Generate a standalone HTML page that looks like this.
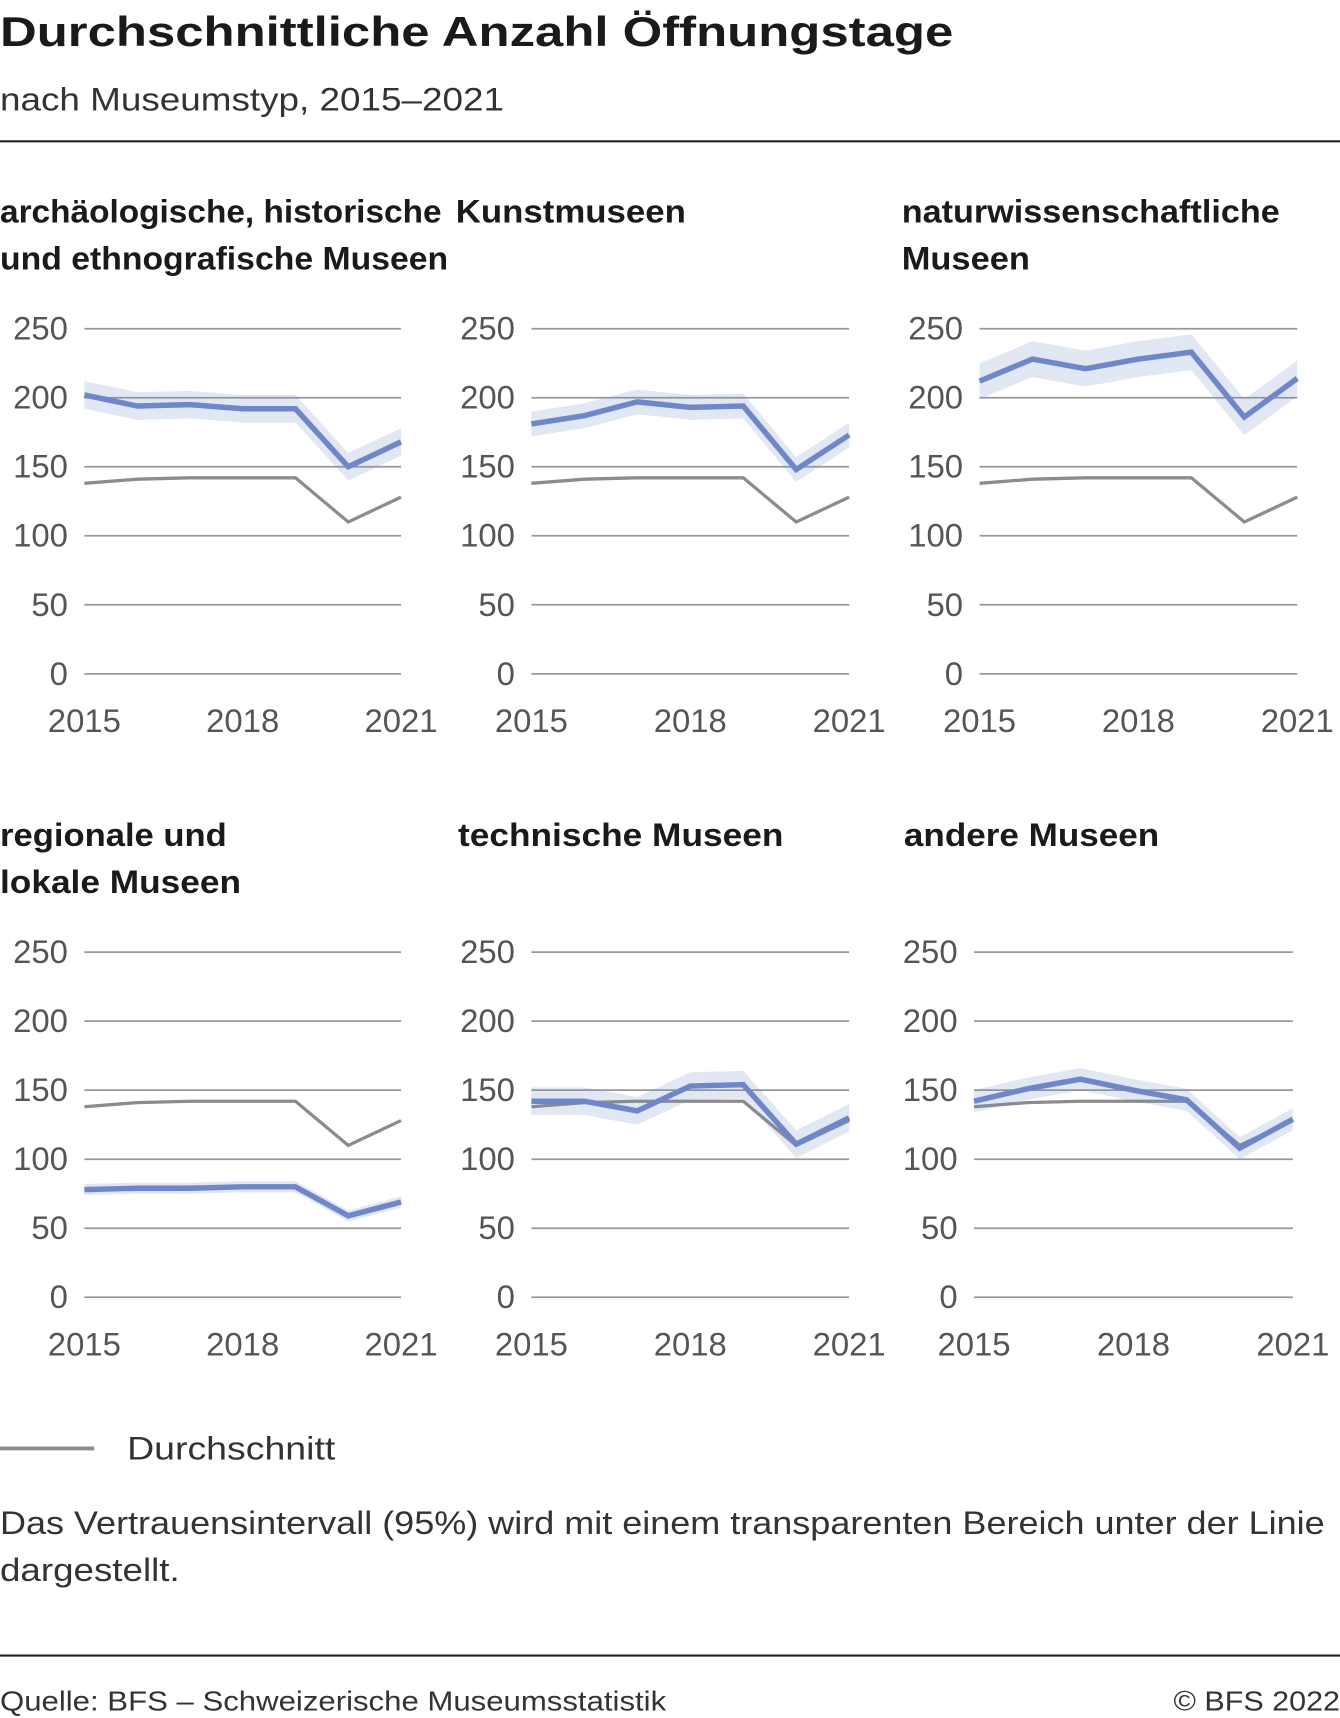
<!DOCTYPE html>
<html><head><meta charset="utf-8"><style>
html,body{margin:0;padding:0;background:#fff;}
svg{display:block;font-family:"Liberation Sans",sans-serif;}
</style></head><body>
<svg id="s" width="1340" height="1718" viewBox="0 0 1223 1568" xmlns="http://www.w3.org/2000/svg">
<rect width="1223" height="1568" fill="#fff"/>
<text x="0" y="42" font-size="38" font-weight="bold" fill="#1a1a1a" textLength="870" lengthAdjust="spacingAndGlyphs">Durchschnittliche Anzahl Öffnungstage</text>
<text x="0" y="101" font-size="30" fill="#333" textLength="460" lengthAdjust="spacingAndGlyphs">nach Museumstyp, 2015–2021</text>
<line x1="0" y1="129" x2="1223" y2="129" stroke="#222" stroke-width="2"/>
<g font-size="30" font-weight="bold" fill="#1a1a1a">
<text x="0" y="203" textLength="403" lengthAdjust="spacingAndGlyphs">archäologische, historische</text>
<text x="0" y="246" textLength="409" lengthAdjust="spacingAndGlyphs">und ethnografische Museen</text>
<text x="416" y="203" textLength="210" lengthAdjust="spacingAndGlyphs">Kunstmuseen</text>
<text x="823" y="203" textLength="345" lengthAdjust="spacingAndGlyphs">naturwissenschaftliche</text>
<text x="823" y="246" textLength="117" lengthAdjust="spacingAndGlyphs">Museen</text>
<text x="0" y="772" textLength="207" lengthAdjust="spacingAndGlyphs">regionale und</text>
<text x="0" y="815" textLength="220" lengthAdjust="spacingAndGlyphs">lokale Museen</text>
<text x="418" y="772" textLength="297" lengthAdjust="spacingAndGlyphs">technische Museen</text>
<text x="825" y="772" textLength="233" lengthAdjust="spacingAndGlyphs">andere Museen</text>
</g>
<g id="charts"></g>
<line x1="0" y1="1322" x2="86" y2="1322" stroke="#8c8c8c" stroke-width="3.5"/>
<text x="116" y="1332" font-size="30" fill="#333" textLength="190" lengthAdjust="spacingAndGlyphs">Durchschnitt</text>
<text x="0" y="1400" font-size="30" fill="#333" textLength="1209" lengthAdjust="spacingAndGlyphs">Das Vertrauensintervall (95%) wird mit einem transparenten Bereich unter der Linie</text>
<text x="0" y="1443" font-size="30" fill="#333" textLength="164" lengthAdjust="spacingAndGlyphs">dargestellt.</text>
<line x1="0" y1="1511" x2="1223" y2="1511" stroke="#222" stroke-width="2"/>
<text x="0" y="1561" font-size="25" fill="#333" textLength="608" lengthAdjust="spacingAndGlyphs">Quelle: BFS – Schweizerische Museumsstatistik</text>
<text x="1223" y="1561" font-size="25" fill="#333" text-anchor="end" textLength="152" lengthAdjust="spacingAndGlyphs">© BFS 2022</text>
</svg>
<script>
var avg=[138,141,142,142,142,110,128];
var P=[
 {x0:77,x1:366,y0:615,lx:62,d:[202,194,195,192,192,150,168],ci:10},
 {x0:485,x1:775,y0:615,lx:470,d:[181,187,197,193,194,148,173],ci:9},
 {x0:894,x1:1184,y0:615,lx:879,d:[212,228,221,228,233,186,214],ci:13},
 {x0:77,x1:366,y0:1184,lx:62,d:[78,79,79,80,80,59,69],ci:4},
 {x0:485,x1:775,y0:1184,lx:470,d:[142,142,135,153,154,111,130],ci:10},
 {x0:889,x1:1180,y0:1184,lx:874,d:[142,151,158,150,143,108,129],ci:8}
];
var h='';
P.forEach(function(p){
 var sx=(p.x1-p.x0)/6, k=1.26;
 function X(i){return p.x0+i*sx;} function Y(v){return p.y0-v*k;}
 for(var v=0;v<=250;v+=50){
  h+='<line x1="'+p.x0+'" y1="'+Y(v)+'" x2="'+p.x1+'" y2="'+Y(v)+'" stroke="#999" stroke-width="1.6"/>';
  h+='<text x="'+p.lx+'" y="'+(Y(v)+10)+'" font-size="30" fill="#555" text-anchor="end">'+v+'</text>';
 }
 [[0,'2015'],[3,'2018'],[6,'2021']].forEach(function(t){
  h+='<text x="'+X(t[0])+'" y="'+(p.y0+53)+'" font-size="30" fill="#555" text-anchor="middle">'+t[1]+'</text>';
 });
 var up=[],dn=[],ln=[],ag=[];
 p.d.forEach(function(v,i){up.push(X(i)+','+Y(v+p.ci));dn.unshift(X(i)+','+Y(v-p.ci));ln.push(X(i)+','+Y(v));ag.push(X(i)+','+Y(avg[i]));});
 h+='<polyline points="'+ag.join(' ')+'" fill="none" stroke="#8c8c8c" stroke-width="3"/>';
 h+='<polygon points="'+up.concat(dn).join(' ')+'" fill="#6f87c8" fill-opacity="0.2"/>';
 h+='<polyline points="'+ln.join(' ')+'" fill="none" stroke="#6f87c8" stroke-width="5"/>';
});
document.getElementById('charts').innerHTML=h;
</script>
</body></html>
